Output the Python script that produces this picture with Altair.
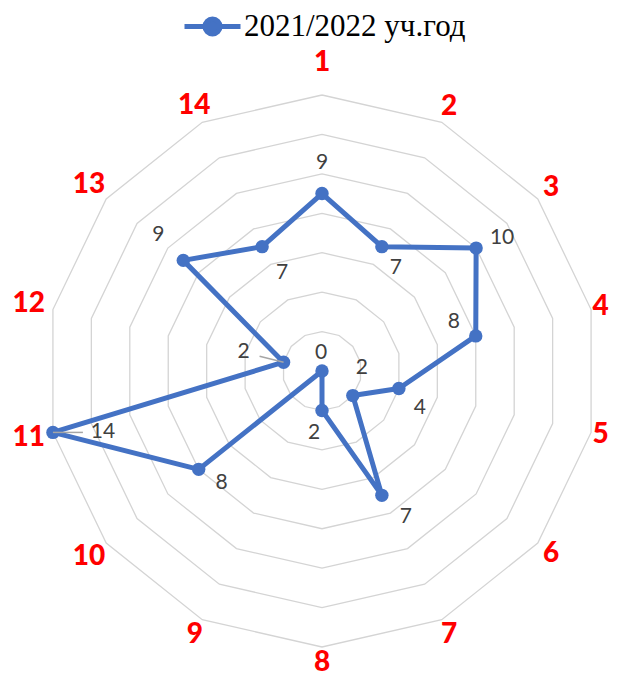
import altair as alt
import pandas as pd

# ---- data ----
categories = [str(i) for i in range(1, 15)]
values = [9, 7, 10, 8, 4, 2, 7, 2, 0, 8, 14, 2, 9, 7]
series_name = "2021/2022 уч.год"
ring_levels = [2, 4, 6, 8, 10, 12, 14]
# manual label nudges of the data labels (px: right / down)
label_dx = [0, 14, 26, -22, 21, 9, 24, -8, -1, 23, 50, -40, -25, 20]
label_dy = [-31, 21, -10, -14, 19, -28, 22, 23, -18, 14, 0, -10, -25, 26]
has_leader = [False] * 10 + [True, True, False, False]

N = len(categories)
MAXV = 14
SIZE = 552
PX = (SIZE / 2) / MAXV  # pixels per value unit

pts = pd.DataFrame({
    "k": list(range(N)), "cat": categories, "value": values,
    "series": series_name, "ldx": label_dx, "ldy": label_dy, "leader": has_leader,
})
line_df = pd.concat([pts, pts.iloc[[0]].assign(k=N)], ignore_index=True)
rings = pd.DataFrame([{"level": lv, "k": k} for lv in ring_levels for k in range(N + 1)])

ANG = f"datum.k * 2 * PI / {N}"
xs = alt.Scale(domain=[-MAXV, MAXV], nice=False, zero=False)
ys = alt.Scale(domain=[-MAXV, MAXV], nice=False, zero=False)
X = lambda f: alt.X(f, type="quantitative", scale=xs, axis=None)
Y = lambda f: alt.Y(f, type="quantitative", scale=ys, axis=None)

legend_path = ("M-1,0H1M-0.27,0A0.27,0.27 0 1,0 0.27,0"
               "A0.27,0.27 0 1,0 -0.27,0Z")

ring_layer = alt.Chart(rings).transform_calculate(
    a=ANG
).transform_calculate(
    x="datum.level * sin(datum.a)", y="datum.level * cos(datum.a)"
).mark_line(color="#d4d4d4", strokeWidth=1.3).encode(
    x=X("x"), y=Y("y"), detail="level:N", order="k:Q"
)

def polar(chart):
    return chart.transform_calculate(a=ANG).transform_calculate(
        x="datum.value * sin(datum.a)", y="datum.value * cos(datum.a)"
    )

data_line = polar(alt.Chart(line_df)).mark_line(
    strokeWidth=5, strokeJoin="round", strokeCap="round"
).encode(
    x=X("x"), y=Y("y"), order="k:Q",
    color=alt.Color("series:N", scale=alt.Scale(range=["#4472C4"]),
                    legend=alt.Legend(
                        title=None, orient="none", legendX=136, legendY=-99,
                        symbolType=legend_path, symbolSize=3136,
                        symbolStrokeWidth=5, symbolFillColor="#4472C4",
                        symbolStrokeColor="#4472C4", symbolOpacity=1,
                        labelFont="Liberation Serif", labelFontSize=31,
                        labelColor="#000000", labelOffset=1, padding=0,
                        labelLimit=400)),
)

point_layer = polar(alt.Chart(pts)).mark_circle(
    size=180, color="#4472C4", opacity=1
).encode(x=X("x"), y=Y("y"))

leader_layer = polar(alt.Chart(pts)).transform_filter("datum.leader").transform_calculate(
    x2=f"datum.x + 0.6 * datum.ldx / {PX}", y2=f"datum.y - 0.6 * datum.ldy / {PX}"
).mark_rule(color="#a6a6a6", strokeWidth=1.5).encode(
    x=X("x"), y=Y("y"), x2="x2:Q", y2="y2:Q"
)

label_layer = polar(alt.Chart(pts)).transform_calculate(
    lx=f"datum.x + datum.ldx / {PX}", ly=f"datum.y - datum.ldy / {PX}"
).mark_text(
    font="Lato", fontSize=21, color="#404040", align="center", baseline="middle"
).encode(x=X("lx"), y=Y("ly"), text="value:Q")

# label radius (value units) just outside the outer ring; the
# right-hand and bottom labels are pulled in slightly to stay on the page
cat_layer = alt.Chart(pts).transform_calculate(
    a=ANG
).transform_calculate(
    r=("(datum.k == 7 ? 14.8 : (datum.k == 3 || datum.k == 4) ? 14.5 : 14.86)"
       " + (datum.k == 0 ? 0.76 : 0)"
       " + (length(datum.cat) > 1 ? 0.42 * pow(sin(datum.a), 2) : 0)")
).transform_calculate(
    x="datum.r * sin(datum.a)", y="datum.r * cos(datum.a)"
).mark_text(
    font="Lato", fontSize=28, fontWeight=900, color="#FF0000",
    align="center", baseline="middle"
).encode(x=X("x"), y=Y("y"), text="cat:N")

chart = alt.layer(
    ring_layer, data_line, point_layer, leader_layer, label_layer, cat_layer
).properties(
    width=SIZE, height=SIZE,
    autosize=alt.AutoSizeParams(type="none"),
    padding={"left": 38, "top": 87, "right": 13, "bottom": 31},
).configure_view(stroke=None)

chart.save("out.html", embed_options={"renderer": "svg", "actions": False})
